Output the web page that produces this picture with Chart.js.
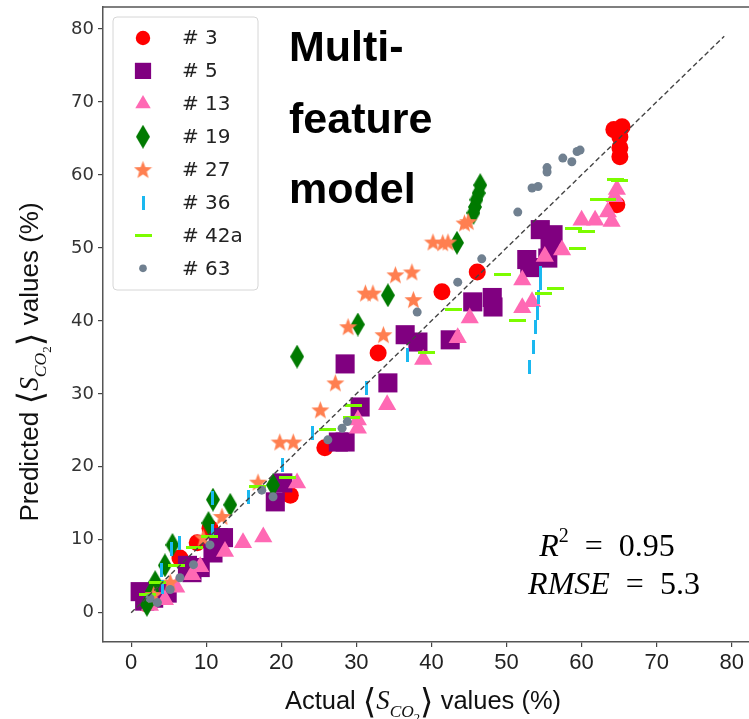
<!DOCTYPE html>
<html>
<head>
<meta charset="utf-8">
<script src="https://cdn.jsdelivr.net/npm/chart.js@4.4.1/dist/chart.umd.min.js"></script>
<style>html,body{margin:0;padding:0;background:#fff}canvas{display:block}</style>
</head>
<body>
<canvas id="myChart" width="749" height="719"></canvas>
<script>
// Data (actual vs predicted, %)
var seriesNames = ['# 3', '# 5', '# 13', '# 19', '# 27', '# 36', '# 42a', '# 63'];

var s3x = [64.3, 65.4, 65.1, 65.1, 65.1, 64.7, 46.1, 41.4, 32.9, 25.8, 21.2, 10.5, 8.8, 6.5, 2.5, 1.8, 3.5];
var s3y = [66.2, 66.6, 65.2, 63.7, 62.5, 55.9, 46.7, 44.0, 35.6, 22.6, 16.1, 11.6, 9.6, 7.5, 2.0, 1.3, 3.0];

var s5x = [54.5, 56.2, 55.8, 52.7, 53.1, 55.5, 45.5, 48.1, 48.2, 36.5, 38.2, 42.5, 34.2, 28.5, 30.5, 27.6, 28.5, 20.2, 19.2, 11.6, 12.3, 10.9, 9.2, 8.1, 4.8, 1.2, 1.8, 3.0, 7.5];
var s5y = [52.5, 51.8, 50.8, 48.4, 47.3, 48.6, 42.6, 43.2, 41.9, 38.1, 37.1, 37.4, 31.5, 34.1, 28.2, 23.4, 23.4, 17.8, 15.2, 10.3, 10.3, 8.2, 6.2, 5.5, 2.7, 2.9, 1.6, 2.0, 6.5];

var s13x = [64.7, 64.4, 60.0, 61.8, 63.5, 64.0, 57.4, 55.1, 52.1, 52.1, 53.4, 45.1, 43.5, 38.9, 34.1, 30.2, 30.2, 22.1, 17.6, 14.9, 12.5, 9.2, 8.1, 4.5, 2.5, 6.0];
var s13y = [58.0, 57.0, 53.8, 53.8, 54.9, 53.6, 49.7, 48.8, 45.6, 41.8, 42.6, 40.4, 37.7, 34.7, 28.5, 26.4, 25.3, 17.8, 10.4, 9.6, 8.4, 6.3, 5.2, 1.8, 1.0, 3.5];

var s19x = [46.5, 46.3, 46.0, 45.8, 45.6, 43.4, 34.2, 30.2, 22.1, 18.9, 10.9, 13.2, 10.3, 5.5, 3.2, 2.1, 4.5, 2.8];
var s19y = [58.6, 57.5, 56.6, 55.6, 54.8, 50.7, 43.5, 39.5, 35.1, 17.5, 15.5, 14.8, 12.3, 9.3, 4.2, 1.1, 6.5, 3.0];

var s27x = [44.9, 44.4, 40.2, 41.5, 42.2, 35.2, 37.4, 37.6, 31.2, 32.2, 28.9, 33.6, 27.2, 25.2, 19.8, 21.6, 16.9, 12.1, 9.6, 5.2, 3.0];
var s27y = [53.6, 53.4, 50.8, 50.7, 50.8, 46.3, 46.7, 42.9, 43.8, 43.8, 39.2, 38.1, 31.5, 27.8, 23.4, 23.4, 17.9, 13.2, 10.3, 4.2, 2.5];

var s36x = [54.5, 54.5, 54.2, 54.1, 53.9, 53.6, 53.1, 36.8, 31.3, 24.1, 20.2, 15.6, 10.9, 6.5, 4.1, 10.8, 4.2, 5.4];
var s36y = [46.6, 45.2, 43.3, 41.1, 39.2, 36.4, 33.7, 35.3, 30.8, 24.7, 20.3, 15.8, 15.7, 9.6, 5.9, 11.2, 3.6, 8.8];

var s42x = [65.1, 64.5, 62.2, 63.4, 58.9, 60.7, 59.5, 56.5, 54.9, 51.4, 49.5, 42.9, 39.4, 29.6, 29.4, 26.1, 16.8, 20.8, 10.5, 6.0, 3.5, 2.2, 8.5];
var s42y = [59.2, 59.3, 56.6, 56.6, 52.7, 52.2, 49.9, 44.4, 43.7, 40.0, 46.3, 41.5, 35.6, 28.4, 26.8, 25.1, 17.3, 18.6, 10.5, 6.5, 4.2, 2.5, 9.0];

var s63x = [57.5, 58.7, 59.4, 59.8, 55.4, 55.4, 53.4, 54.2, 51.5, 46.7, 43.5, 38.1, 28.8, 28.1, 26.2, 17.4, 18.9, 10.5, 8.3, 6.5, 5.2, 3.5, 2.5];
var s63y = [62.3, 61.8, 63.2, 63.4, 61.0, 60.4, 58.2, 58.4, 54.9, 48.5, 45.3, 41.2, 26.2, 25.3, 23.7, 16.8, 15.9, 9.3, 6.6, 4.8, 3.2, 1.4, 2.0];

// parity line
var diagX = [0, 79];
var diagY = [0, 79];

var xTicks = [0, 10, 20, 30, 40, 50, 60, 70, 80];
var yTicks = [0, 10, 20, 30, 40, 50, 60, 70, 80];

// marker images for the shapes chart.js has no built-in for
function markerCanvas(kind, color) {
    var c = document.createElement('canvas');
    var g;
    if (kind === 'diamond') {
        c.width = 14; c.height = 24;
        g = c.getContext('2d');
        g.fillStyle = color;
        g.beginPath();
        g.moveTo(7, 0); g.lineTo(14, 12); g.lineTo(7, 24); g.lineTo(0, 12);
        g.closePath(); g.fill();
    } else if (kind === 'star') {
        c.width = 19; c.height = 19;
        g = c.getContext('2d');
        g.fillStyle = color;
        g.beginPath();
        for (var i = 0; i < 10; i++) {
            var r = i % 2 === 0 ? 9.5 : 4;
            var a = -Math.PI / 2 + i * Math.PI / 5;
            var px = 9.5 + r * Math.cos(a), py = 10.3 + r * Math.sin(a);
            if (i === 0) g.moveTo(px, py); else g.lineTo(px, py);
        }
        g.closePath(); g.fill();
    } else if (kind === 'vline') {
        c.width = 3; c.height = 14;
        g = c.getContext('2d');
        g.fillStyle = color;
        g.fillRect(0, 0, 3, 14);
    } else {
        c.width = 17; c.height = 3;
        g = c.getContext('2d');
        g.fillStyle = color;
        g.fillRect(0, 0, 17, 3);
    }
    return c;
}

var colors = ['#ff0000', '#800080', '#ff69b4', '#007a00', '#ff7f50', '#1ab8f0', '#7cfc00', '#708090'];
var styles = [
    'circle', 'rect', 'triangle',
    markerCanvas('diamond', colors[3]),
    markerCanvas('star', colors[4]),
    markerCanvas('vline', colors[5]),
    markerCanvas('hline', colors[6]),
    'circle'
];
var radii = [8.5, 13.5, 10.5, 8, 8, 8, 8, 4.5];
var xs = [s3x, s5x, s13x, s19x, s27x, s36x, s42x, s63x];
var ys = [s3y, s5y, s13y, s19y, s27y, s36y, s42y, s63y];

function toPoints(x, y) {
    return x.map(function (v, i) { return { x: v, y: y[i] }; });
}

var datasets = [];
for (let i = 0; i < seriesNames.length; i++) {
    datasets.push({
        type: 'scatter',
        label: seriesNames[i],
        data: toPoints(xs[i], ys[i]),
        pointStyle: styles[i],
        pointRadius: radii[i],
        backgroundColor: colors[i],
        borderColor: colors[i],
        borderWidth: 0,
        order: 10 - i
    });
}
datasets.push({
    type: 'line',
    label: 'parity',
    data: toPoints(diagX, diagY),
    borderColor: '#444444',
    borderWidth: 1.4,
    borderDash: [5, 3],
    pointRadius: 0,
    fill: false,
    order: 0
});

// math-ish title: text <S_CO2> text
function drawAxisTitle(ctx, before, after, size) {
    var plain = size + "px 'Liberation Sans Narrow', 'Liberation Sans', sans-serif";
    var brak = (size * 1.35) + "px 'DejaVu Sans', sans-serif";
    var sFont = 'italic ' + (size * 1.05) + "px 'Liberation Serif', serif";
    var subFont = 'italic ' + (size * 0.68) + "px 'Liberation Serif', serif";
    var sub2Font = (size * 0.5) + "px 'Liberation Serif', serif";
    var parts = [
        [before, plain, 0],
        ['\u27E8', brak, 1],
        ['S', sFont, 0],
        ['CO', subFont, size * 0.3],
        ['2', sub2Font, size * 0.5],
        ['\u27E9', brak, 1],
        [after, plain, 0]
    ];
    var total = 0;
    parts.forEach(function (p) { ctx.font = p[1]; total += ctx.measureText(p[0]).width; });
    var x = -total / 2;
    ctx.textBaseline = 'alphabetic';
    ctx.textAlign = 'left';
    ctx.fillStyle = '#111';
    parts.forEach(function (p) {
        ctx.font = p[1];
        ctx.fillText(p[0], x, p[2] + (p[0] === '\u27E8' || p[0] === '\u27E9' ? size * 0.12 : 0));
        x += ctx.measureText(p[0]).width;
    });
}

var extras = {
    id: 'extras',
    afterDraw: function (chart) {
        var ctx = chart.ctx;
        var area = chart.chartArea;
        ctx.save();

        // top spine
        ctx.strokeStyle = '#555';
        ctx.lineWidth = 1.5;
        ctx.beginPath();
        ctx.moveTo(area.left, area.top);
        ctx.lineTo(area.right, area.top);
        ctx.stroke();

        // axis titles
        ctx.save();
        ctx.translate(423, 709);
        drawAxisTitle(ctx, 'Actual ', ' values (%)', 25.5);
        ctx.restore();
        ctx.save();
        ctx.translate(38, 362);
        ctx.rotate(-Math.PI / 2);
        drawAxisTitle(ctx, 'Predicted ', ' values (%)', 26);
        ctx.restore();

        // legend box
        var lx = 113, ly = 17, lw = 145, lh = 273;
        ctx.fillStyle = 'rgba(255,255,255,0.85)';
        ctx.strokeStyle = '#d6d6d6';
        ctx.lineWidth = 1;
        ctx.beginPath();
        ctx.roundRect(lx, ly, lw, lh, 4);
        ctx.fill();
        ctx.stroke();
        for (let i = 0; i < seriesNames.length; i++) {
            var cy = 38 + i * 32.9;
            ctx.fillStyle = colors[i];
            ctx.strokeStyle = colors[i];
            Chart.helpers.drawPoint(ctx, {
                pointStyle: styles[i], radius: radii[i] * 0.85, rotation: 0, borderWidth: 0
            }, 143, cy);
            ctx.fillStyle = '#222';
            ctx.font = "20px 'DejaVu Sans', sans-serif";
            ctx.textAlign = 'left';
            ctx.textBaseline = 'middle';
            ctx.fillText(seriesNames[i], 182, cy + 1);
        }

        // model label
        ctx.fillStyle = '#000';
        ctx.font = "bold 43px 'Liberation Sans', Arial, sans-serif";
        ctx.textAlign = 'left';
        ctx.textBaseline = 'alphabetic';
        ctx.fillText('Multi-', 289, 61);
        ctx.fillText('feature', 289, 133);
        ctx.fillText('model', 289, 203);

        // scores
        ctx.textBaseline = 'alphabetic';
        var it = "italic 32px 'Liberation Serif', serif";
        var up = "32px 'Liberation Serif', serif";
        var sup = "20px 'Liberation Serif', serif";
        function line(parts, cx, by) {
            var w = 0;
            parts.forEach(function (p) { ctx.font = p[1]; w += ctx.measureText(p[0]).width; });
            var x = cx - w / 2;
            parts.forEach(function (p) {
                ctx.font = p[1];
                ctx.fillText(p[0], x, by + p[2]);
                x += ctx.measureText(p[0]).width;
            });
        }
        line([['R', it, 0], ['2', sup, -14], ['\u2002=\u20020.95', up, 0]], 607, 556);
        line([['RMSE', it, 0], ['\u2002=\u20025.3', up, 0]], 614, 594);

        ctx.restore();
    }
};

var config = {
    type: 'scatter',
    data: { datasets: datasets },
    options: {
        responsive: false,
        animation: false,
        layout: { autoPadding: false, padding: { top: 7, right: 0, left: 0, bottom: 0 } },
        plugins: { legend: { display: false }, tooltip: { enabled: false } },
        scales: {
            x: {
                type: 'linear',
                min: -3.75,
                max: 82.3,
                afterFit: function (s) { s.height = 77; s.paddingLeft = 0; s.paddingRight = 0; },
                afterBuildTicks: function (s) { s.ticks = xTicks.map(function (v) { return { value: v }; }); },
                ticks: {
                    color: '#222',
                    padding: 3,
                    font: { family: "'Liberation Sans Narrow', 'Liberation Sans', sans-serif", size: 22 }
                },
                grid: { drawOnChartArea: false, drawTicks: true, tickLength: 5, color: '#444', lineWidth: 1.2 },
                border: { color: '#555', width: 1.5 }
            },
            y: {
                type: 'linear',
                min: -4,
                max: 83,
                afterFit: function (s) { s.width = 103; s.paddingTop = 0; s.paddingBottom = 0; },
                afterBuildTicks: function (s) { s.ticks = yTicks.map(function (v) { return { value: v }; }); },
                ticks: {
                    color: '#333',
                    padding: 4,
                    font: { family: "'DejaVu Sans', sans-serif", size: 18 }
                },
                grid: { drawOnChartArea: false, drawTicks: true, tickLength: 5, color: '#444', lineWidth: 1.2 },
                border: { color: '#555', width: 1.5 }
            }
        }
    },
    plugins: [extras]
};

var myChart = new Chart(document.getElementById('myChart'), config);
</script>
</body>
</html>
